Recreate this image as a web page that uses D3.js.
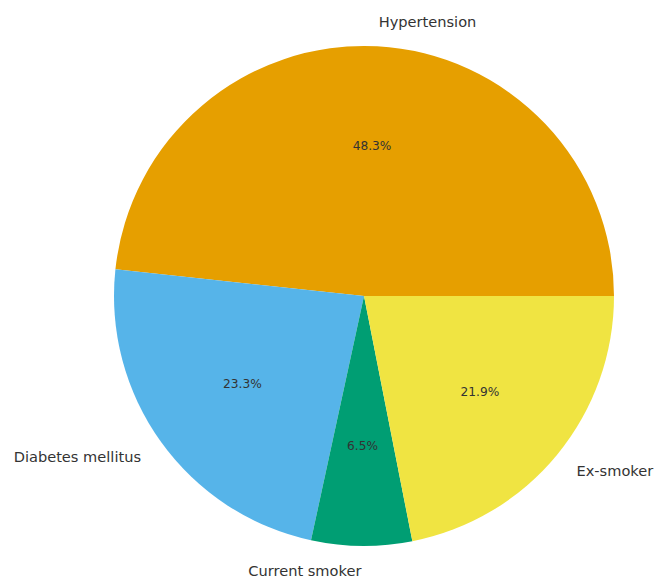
<!DOCTYPE html>
<html>
<head>
<meta charset="utf-8">
<script src="https://cdn.jsdelivr.net/npm/d3@7"></script>
<style>
  body { margin: 0; background: #fff; }
  text { font-family: "DejaVu Sans", sans-serif; fill: #333; }
</style>
</head>
<body>
<script>
// chart data
var categories = ["Hypertension", "Diabetes mellitus", "Current smoker", "Ex-smoker"];
var values = [48.3, 23.3, 6.5, 21.9];
var colors = ["#E69F00", "#56B4E9", "#009E73", "#F0E442"];

var width = 654, height = 578,
    cx = 364, cy = 296, radius = 250;

var svg = d3.select("body").append("svg")
    .attr("width", width)
    .attr("height", height);

var g = svg.append("g")
    .attr("transform", "translate(" + cx + "," + cy + ")");

var data = categories.map(function(c, i) {
  return {label: c, value: values[i], color: colors[i]};
});

// matplotlib style: start at 3 o'clock, go counter-clockwise
var pie = d3.pie()
    .sort(null)
    .value(function(d) { return d.value; })
    .startAngle(Math.PI / 2)
    .endAngle(Math.PI / 2 - 2 * Math.PI);

var arcs = pie(data);

var arc = d3.arc().innerRadius(0).outerRadius(radius);

g.selectAll("path.slice")
    .data(arcs)
  .enter().append("path")
    .attr("class", "slice")
    .attr("d", arc)
    .attr("fill", function(d) { return d.data.color; });

function pos(d, r) {
  var a = (d.startAngle + d.endAngle) / 2;
  return [r * Math.sin(a), -r * Math.cos(a)];
}

// category labels outside
g.selectAll("text.label")
    .data(arcs)
  .enter().append("text")
    .attr("class", "label")
    .attr("x", function(d) { return pos(d, radius * 1.1)[0]; })
    .attr("y", function(d) { return pos(d, radius * 1.1)[1]; })
    .attr("dy", "0.35em")
    .attr("text-anchor", function(d) { return pos(d, 1)[0] > 0 ? "start" : "end"; })
    .style("font-size", "14.6px")
    .text(function(d) { return d.data.label; });

// percentages inside
g.selectAll("text.pct")
    .data(arcs)
  .enter().append("text")
    .attr("class", "pct")
    .attr("x", function(d) { return pos(d, radius * 0.6)[0]; })
    .attr("y", function(d) { return pos(d, radius * 0.6)[1]; })
    .attr("dy", "0.35em")
    .attr("text-anchor", "middle")
    .style("font-size", "12.2px")
    .text(function(d) { return d.data.value.toFixed(1) + "%"; });
</script>
</body>
</html>
